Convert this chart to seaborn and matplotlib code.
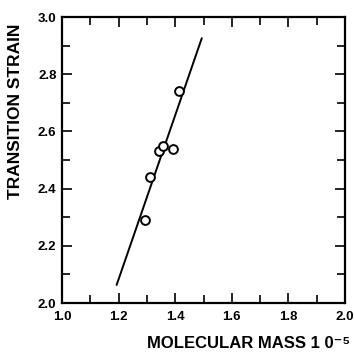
import matplotlib
matplotlib.use("Agg")
import matplotlib.pyplot as plt
from matplotlib.ticker import MultipleLocator, FormatStrFormatter
import seaborn as sns
import pandas as pd

# Measured samples
molecular_mass = [1.293, 1.311, 1.344, 1.358, 1.393, 1.414]
transition_strain = [2.29, 2.44, 2.53, 2.55, 2.54, 2.74]

# Fitted trend line end points
fit_mass = [1.193, 1.494]
fit_strain = [2.063, 2.926]

x_ticks = [1.0, 1.2, 1.4, 1.6, 1.8, 2.0]
y_ticks = [2.0, 2.2, 2.4, 2.6, 2.8, 3.0]

sns.set_style("white")
fonts = ["Liberation Sans Narrow", "Liberation Sans", "DejaVu Sans"]
plt.rcParams["font.family"] = fonts
plt.rcParams["text.color"] = "black"
plt.rcParams["xtick.color"] = "black"
plt.rcParams["ytick.color"] = "black"

points = pd.DataFrame({"mass": molecular_mass, "strain": transition_strain})
fit = pd.DataFrame({"mass": fit_mass, "strain": fit_strain})

fig = plt.figure(figsize=(3.54, 3.54), dpi=100)
ax = fig.add_axes([62 / 354, 1 - 303 / 354, 283 / 354, 286 / 354])

sns.lineplot(data=fit, x="mass", y="strain", color="black", linewidth=1.4, ax=ax)
sns.scatterplot(data=points, x="mass", y="strain", marker="o", s=40,
                facecolor="white", edgecolor="black", linewidth=1.4, zorder=3, ax=ax)

ax.set_xlim(1.0, 2.0)
ax.set_ylim(2.0, 3.0)
ax.set_xticks(x_ticks)
ax.set_yticks(y_ticks)
ax.xaxis.set_major_formatter(FormatStrFormatter("%.1f"))
ax.yaxis.set_major_formatter(FormatStrFormatter("%.1f"))
ax.xaxis.set_minor_locator(MultipleLocator(0.1))
ax.yaxis.set_minor_locator(MultipleLocator(0.1))
ax.tick_params(which="both", direction="in", top=True, right=True,
               bottom=True, left=True, color="black", labelcolor="black", width=1.2)
ax.tick_params(which="major", length=7, labelsize=9.5)
ax.tick_params(axis="x", which="major", pad=6)
ax.tick_params(axis="y", which="major", pad=4)
ax.tick_params(which="minor", length=6)
for lbl in ax.get_xticklabels() + ax.get_yticklabels():
    lbl.set_fontweight("bold")
for sp in ax.spines.values():
    sp.set_visible(True)
    sp.set_color("black")
    sp.set_linewidth(1.6)

ax.set_xlabel("")
ax.set_ylabel("")
fig.text(350 / 354, 1 - 343 / 354, "MOLECULAR MASS 1 0\u207b\u2075", ha="right", va="center",
         fontsize=12, fontweight="bold", color="black", family=fonts)
fig.text(16 / 354, 1 - 111 / 354, "TRANSITION STRAIN", rotation=90, ha="center", va="center",
         fontsize=12.5, fontweight="bold", color="black", family=fonts)

fig.savefig("out.png", dpi=100, facecolor="white")
